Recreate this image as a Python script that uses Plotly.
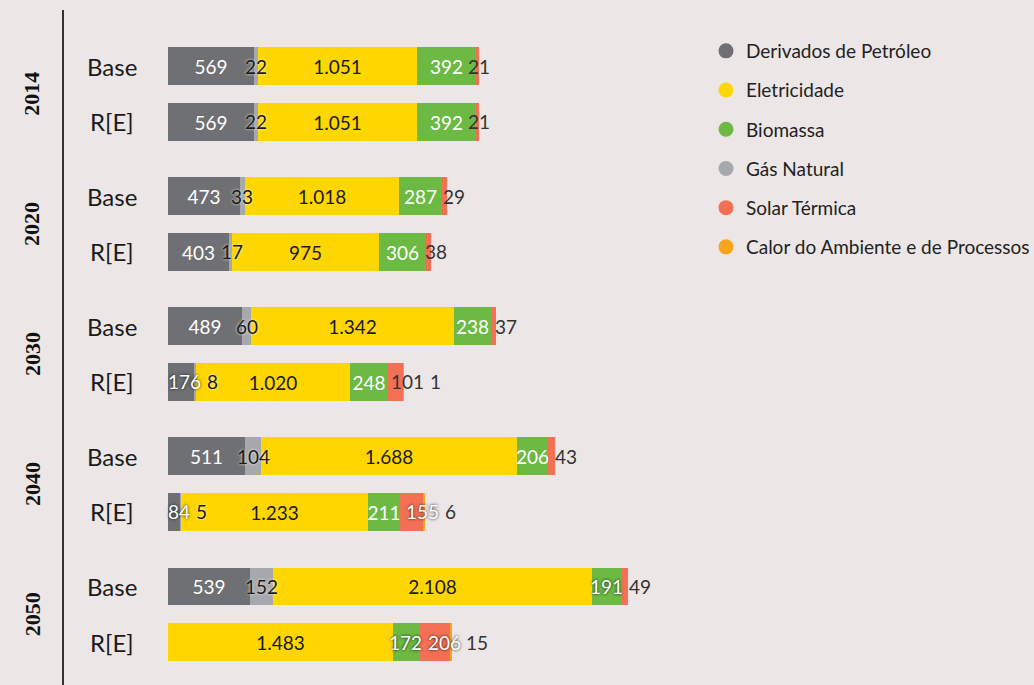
import plotly.graph_objects as go

# ---- data ----
years = ["2014", "2020", "2030", "2040", "2050"]
scenarios = ["Base", "R[E]"]

derivados = [569, 569, 473, 403, 489, 176, 511, 84, 539, 0]
gas_natural = [22, 22, 33, 17, 60, 8, 104, 5, 152, 0]
eletricidade = [1051, 1051, 1018, 975, 1342, 1020, 1688, 1233, 2108, 1483]
biomassa = [392, 392, 287, 306, 238, 248, 206, 211, 191, 172]
solar_termica = [21, 21, 29, 38, 37, 101, 43, 155, 49, 206]
calor = [0, 0, 0, 0, 0, 1, 0, 6, 0, 15]

series = [
    ("Derivados de Petróleo", derivados, "#6f7073", "white"),
    ("Gás Natural", gas_natural, "#a7a8ac", "white"),
    ("Eletricidade", eletricidade, "#ffd600", "#1a1a1a"),
    ("Biomassa", biomassa, "#6cb943", "white"),
    ("Solar Térmica", solar_termica, "#f47055", "white"),
    ("Calor do Ambiente e de Processos", calor, "#f9a51c", "white"),
]
legend_order = ["Derivados de Petróleo", "Eletricidade", "Biomassa",
                "Gás Natural", "Solar Térmica", "Calor do Ambiente e de Processos"]

BG = "#ece6e6"
GROUP_STEP = 2.34  # rows per year group incl. gap
LABEL_FONT = "Lato"
LABEL_SIZE = 19
GAP = 5

# row positions (layout only)
ypos = []
for g in range(len(years)):
    for r in range(len(scenarios)):
        ypos.append(g * GROUP_STEP + r)


def fmt(v):
    return "" if v == 0 else f"{v:,}".replace(",", ".")


def text_w(s):
    return sum(11.2 if ch.isdigit() else 5.0 for ch in s)


# ---- geometry ----
L, R_END = 168, 1034
W = R_END - L
PX_PER_UNIT = 0.1515
T, B = 10, 10
H = 685 - T - B
ROW_PX = 55.6
FIRST_ROW_PX = 66


def px_to_paper_x(px):
    return (px - L) / W


# ---- label placement: labels that fit stay inside their segment,
# the rest are nudged right so they do not collide ----
n_rows = len(ypos)
inside_text = [[""] * n_rows for _ in series]
extra_labels = []
for j in range(n_rows):
    cum = 0.0
    prev_right = 0.0 - GAP
    segs = []
    for i, (_, vals, _, _) in enumerate(series):
        v = vals[j]
        segs.append((cum * PX_PER_UNIT, (cum + v) * PX_PER_UNIT, i))
        cum += v
    for s0, s1, i in segs:
        v = series[i][1][j]
        if v == 0:
            continue
        lab = fmt(v)
        lw = text_w(lab)
        c = (s0 + s1) / 2
        fits = (s1 - s0) >= lw - 3
        want_left = c - lw / 2
        left = max(want_left, prev_right + GAP)
        if fits and left <= want_left + 0.01:
            inside_text[i][j] = lab
            prev_right = c + lw / 2
            continue
        c = left + lw / 2
        prev_right = left + lw
        under = None
        for a0, a1, ii in segs:
            if a0 <= c < a1 and a1 > a0:
                under = ii
        if under is None:
            col, shadow = "#333333", "none"
        elif series[under][2] in ("#ffd600", "#a7a8ac"):
            col, shadow = "#1a1a1a", "0px 0px 3px rgba(255,255,255,0.9)"
        else:
            col, shadow = "white", "0px 0px 3px rgba(0,0,0,0.9)"
        extra_labels.append((c / PX_PER_UNIT, ypos[j], lab, col, shadow))

fig = go.Figure()
for k, (name, vals, color, tcolor) in enumerate(series):
    fig.add_trace(go.Bar(
        x=vals, y=ypos, orientation="h", name=name,
        marker=dict(color=color, line=dict(width=0)),
        width=0.68,
        text=inside_text[k],
        textposition="inside", insidetextanchor="middle",
        constraintext="none", textangle=0,
        textfont=dict(family=LABEL_FONT, size=LABEL_SIZE, color=tcolor),
        showlegend=False, hoverinfo="x+name", cliponaxis=False,
    ))

colors = {n: c for n, _, c, _ in series}
for name in legend_order:
    fig.add_trace(go.Scatter(
        x=[None], y=[None], mode="markers", name=name,
        marker=dict(color=colors[name], size=15, symbol="circle"),
        legendgroup=name, showlegend=True,
    ))

annotations = []
for xv, yv, lab, col, shadow in extra_labels:
    annotations.append(dict(
        x=xv, y=yv, xref="x", yref="y", text=lab, showarrow=False,
        xanchor="center", yanchor="middle",
        font=dict(family=LABEL_FONT, size=LABEL_SIZE, color=col, shadow=shadow),
    ))
for g, yr in enumerate(years):
    annotations.append(dict(
        x=px_to_paper_x(32), xref="paper", y=g * GROUP_STEP + 0.5, yref="y",
        text=f"<b>{yr}</b>", textangle=-90, showarrow=False,
        font=dict(family="Liberation Serif", size=22, color="#111"),
        xanchor="center", yanchor="middle",
    ))
    for r, sc in enumerate(scenarios):
        annotations.append(dict(
            x=px_to_paper_x(112), xref="paper", y=g * GROUP_STEP + r, yref="y",
            text=sc, showarrow=False,
            font=dict(family="Lato", size=24, color="#1a1a1a"),
            xanchor="center", yanchor="middle",
        ))

fig.update_layout(
    width=1034, height=685,
    margin=dict(l=L, r=1034 - R_END, t=T, b=B, autoexpand=False),
    paper_bgcolor=BG, plot_bgcolor=BG,
    barmode="stack", bargap=0,
    separators=",.",
    xaxis=dict(range=[0, W / PX_PER_UNIT], visible=False, fixedrange=True),
    yaxis=dict(range=[(T + H - FIRST_ROW_PX) / ROW_PX, (T - FIRST_ROW_PX) / ROW_PX],
               visible=False, fixedrange=True),
    legend=dict(
        x=px_to_paper_x(706), xanchor="left", y=1 - (32 - T) / H, yanchor="top",
        font=dict(family="Lato", size=19, color="#222"),
        tracegroupgap=11.5, itemsizing="trace", bgcolor="rgba(0,0,0,0)",
    ),
    annotations=annotations,
    shapes=[dict(type="line", xref="paper", yref="paper",
                 x0=px_to_paper_x(63), x1=px_to_paper_x(63),
                 y0=1, y1=-B / H, line=dict(color="#333", width=2))],
)

fig.write_html("out.html", config={"displayModeBar": False},
               post_script="document.body.style.margin='0';")
